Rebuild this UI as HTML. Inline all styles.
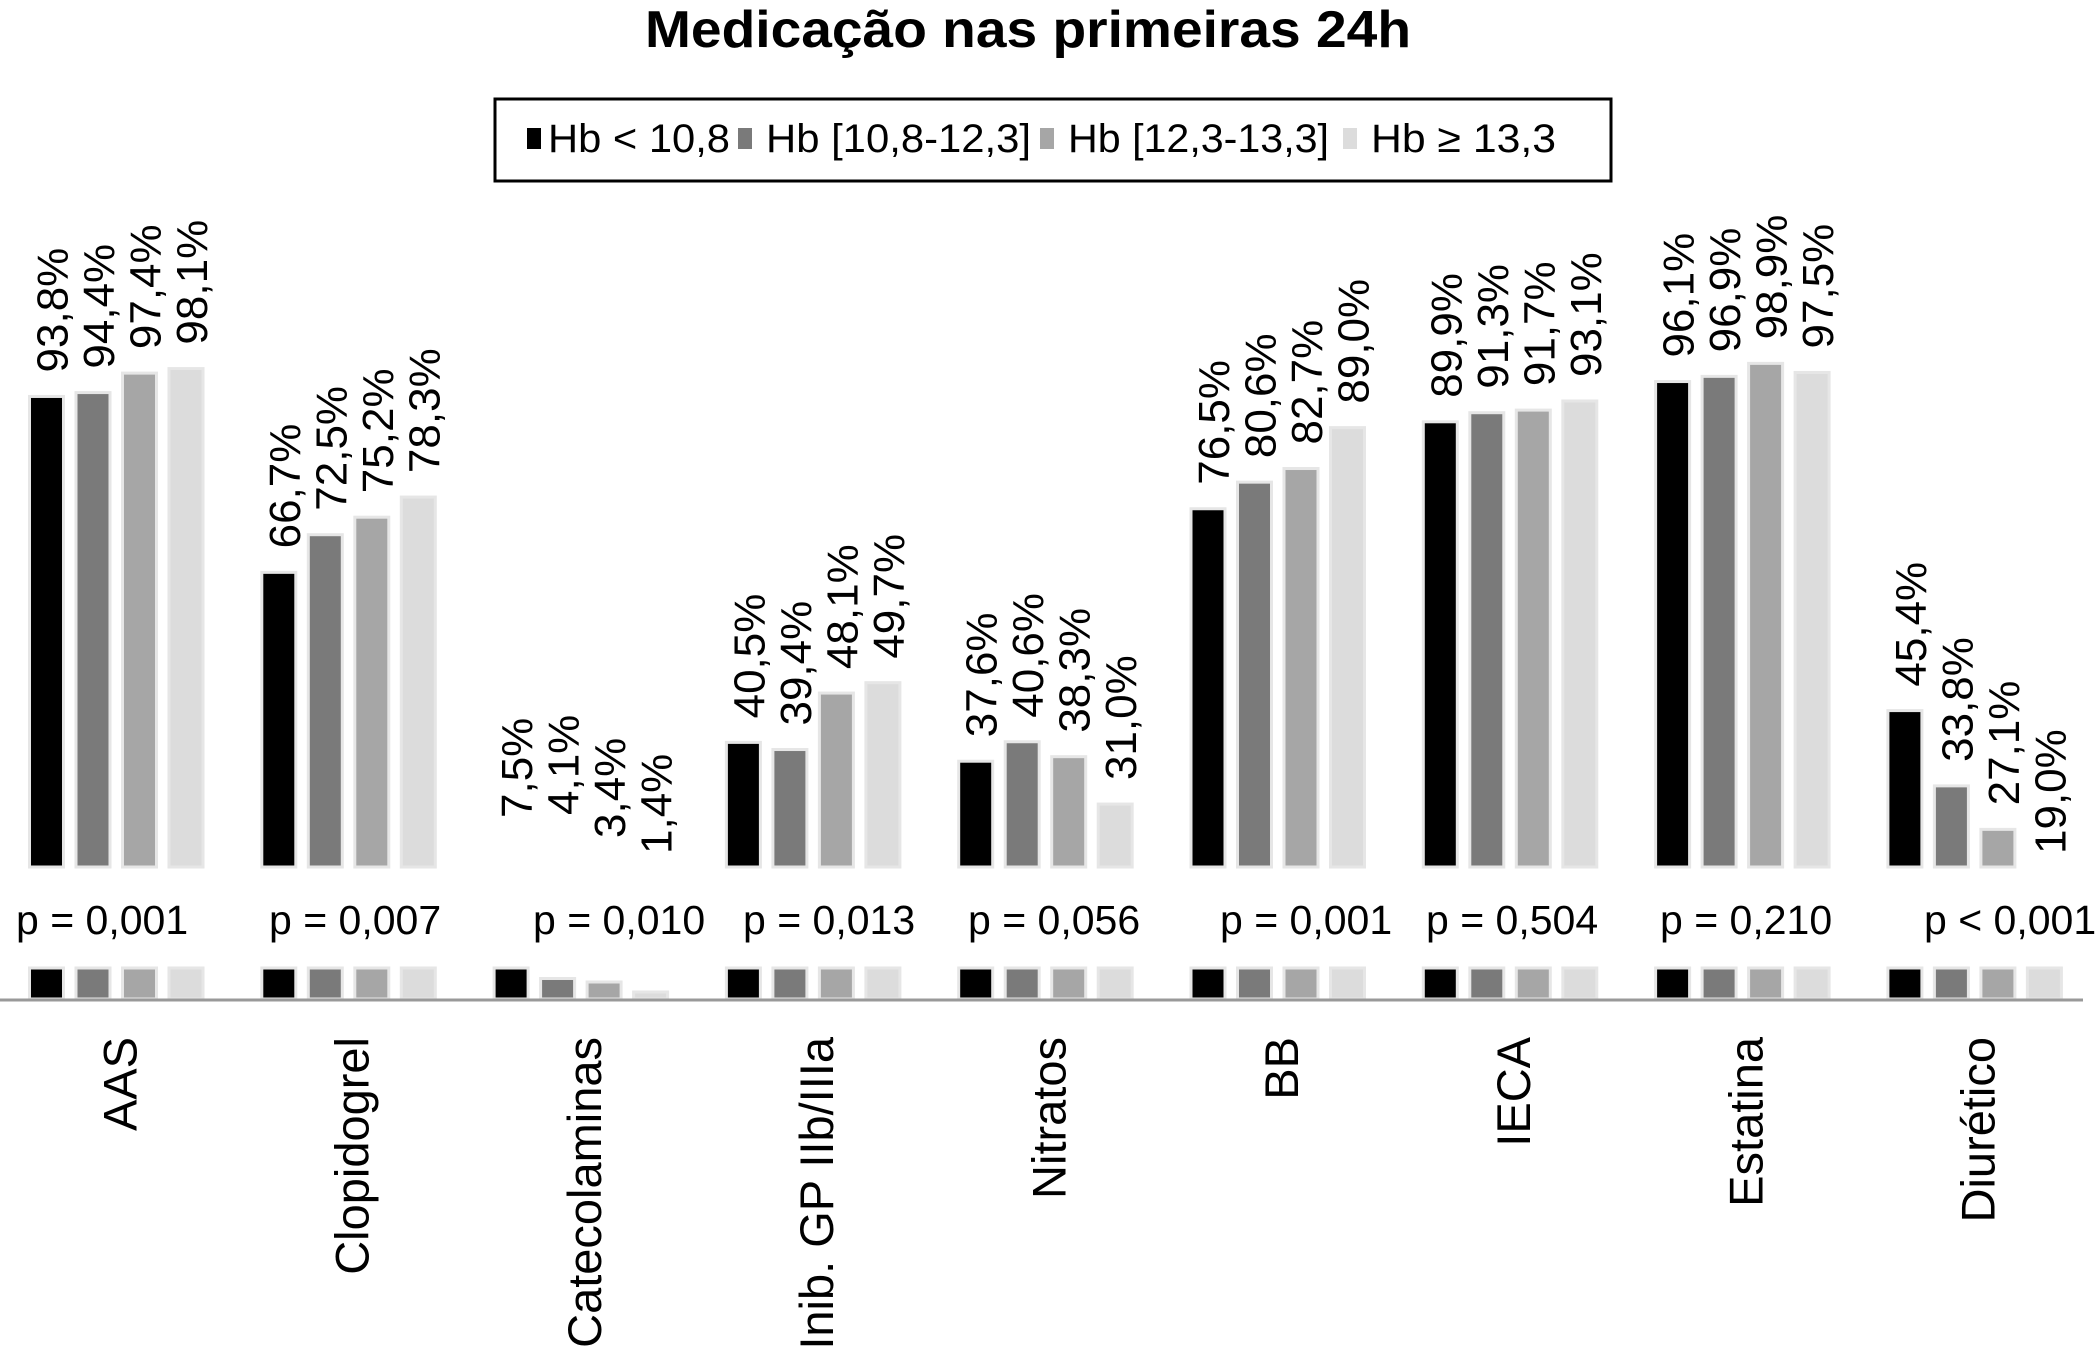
<!DOCTYPE html>
<html><head><meta charset="utf-8">
<style>
html,body{margin:0;padding:0;background:#fff;}
svg{display:block;font-family:"Liberation Sans",Arial,sans-serif;}
</style></head>
<body>
<svg id="chart" width="2099" height="1359" viewBox="0 0 2099 1359" xmlns="http://www.w3.org/2000/svg">
<text x="1028" y="47" text-anchor="middle" font-size="52" font-weight="bold" textLength="766" lengthAdjust="spacingAndGlyphs">Medicação nas primeiras 24h</text>
<g>
<rect x="495" y="99" width="1116" height="82" fill="#fff" stroke="#000" stroke-width="3"/>
<g>
<rect x="527" y="128" width="14" height="21" fill="#000"/>
<text x="548" y="152" font-size="40" textLength="182" lengthAdjust="spacingAndGlyphs">Hb &lt; 10,8</text></g>
<g>
<rect x="738" y="128" width="14" height="21" fill="#7a7a7a"/>
<text x="766" y="152" font-size="40" textLength="265" lengthAdjust="spacingAndGlyphs">Hb [10,8-12,3]</text></g>
<g>
<rect x="1040" y="128" width="14" height="21" fill="#a6a6a6"/>
<text x="1068" y="152" font-size="40" textLength="261" lengthAdjust="spacingAndGlyphs">Hb [12,3-13,3]</text></g>
<g>
<rect x="1343" y="128" width="14" height="21" fill="#dcdcdc"/>
<text x="1371" y="152" font-size="40" textLength="185" lengthAdjust="spacingAndGlyphs">Hb ≥ 13,3</text></g>
</g>
<g id="plot"></g>
<line x1="0" y1="1000" x2="2083" y2="1000" stroke="#999" stroke-width="3"/>
</svg>
<script>
const categories = ["AAS","Clopidogrel","Catecolaminas","Inib. GP IIb/IIIa","Nitratos","BB","IECA","Estatina","Diurético"];
const seriesA = [93.8,66.7,7.5,40.5,37.6,76.5,89.9,96.1,45.4];
const seriesB = [94.4,72.5,4.1,39.4,40.6,80.6,91.3,96.9,33.8];
const seriesC = [97.4,75.2,3.4,48.1,38.3,82.7,91.7,98.9,27.1];
const seriesD = [98.1,78.3,1.4,49.7,31.0,89.0,93.1,97.5,19.0];
const pValues = ["p = 0,001","p = 0,007","p = 0,010","p = 0,013","p = 0,056","p = 0,001","p = 0,504","p = 0,210","p < 0,001"];
const seriesNames = ["hb-lt-10-8","hb-10-8-12-3","hb-12-3-13-3","hb-ge-13-3"];

const NS="http://www.w3.org/2000/svg";
const colors=["#000","#7a7a7a","#a6a6a6","#dcdcdc"];
const pLeft=[16,269,533,743,968,1220,1426,1660,1924];
const lowLabelY=[818,815,838,854];
const plot=document.getElementById('plot');
const series=[seriesA,seriesB,seriesC,seriesD];
const upperBase=867, axisStart=21.3, pxPer=6.49;
const stripBase=999, stripCap=6.2, stripPx=5;
function yUpper(v){return upperBase-pxPer*(v-axisStart);}
function xBar(g,s){return 29.5+g*232.3+s*46.5;}
const barW=34;
function mk(tag,attrs){const e=document.createElementNS(NS,tag);for(const k in attrs)e.setAttribute(k,attrs[k]);return e;}

categories.forEach((cat,g)=>{
  const grp=mk('g',{});
  
  
  plot.appendChild(grp);
  series.forEach((arr,s)=>{
    const v=arr[g], x=xBar(g,s);
    if(v>axisStart){
      const y=yUpper(v);
      const r=mk('rect',{x:x,y:y,width:barW,height:upperBase-y,fill:colors[s],stroke:'#e6e6e6','stroke-width':3});
      
      
      grp.appendChild(r);
    }
    const sh=Math.min(v,stripCap)*stripPx;
    const r2=mk('rect',{x:x,y:stripBase-sh,width:barW,height:sh,fill:colors[s],stroke:'#e6e6e6','stroke-width':3});
    
    
    grp.appendChild(r2);
    const ly=v>axisStart?yUpper(v)-24:lowLabelY[s];
    const cx=x+barW/2+6;
    const t=mk('text',{x:0,y:0,'font-size':44,transform:'translate('+(cx+15)+','+ly+') rotate(-90)'});
    t.textContent=String(v.toFixed(1)).replace('.',',')+'%';
    
    
    grp.appendChild(t);
  });
  const p=mk('text',{x:pLeft[g],y:934,'font-size':41});
  p.textContent=pValues[g];
  
  
  grp.appendChild(p);
  const cx=xBar(g,0)+1.5*46.5+barW/2+4;
  const c=mk('text',{x:0,y:0,'font-size':47,'text-anchor':'end',transform:'translate('+(cx+16)+',1037) rotate(-90)'});
  c.textContent=cat;
  
  
  grp.appendChild(c);
});
</script>
</body></html>
